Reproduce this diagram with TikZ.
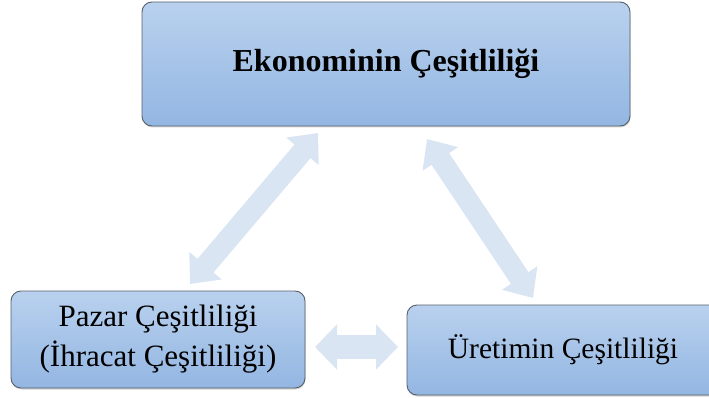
\documentclass[tikz,border=0pt]{standalone}
\usepackage{fontspec}
\setmainfont{Liberation Serif}
\usetikzlibrary{arrows.meta,shadows,calc}
\definecolor{boxtop}{HTML}{B9D1EE}
\definecolor{boxbot}{HTML}{93B6E2}
\definecolor{boxline}{HTML}{56606B}
\definecolor{arrowfill}{HTML}{DAE5F3}
\tikzset{
  box/.style={rounded corners=10pt, draw=boxline, line width=0.9pt,
    top color=boxtop, bottom color=boxbot, align=center,
    drop shadow={shadow xshift=0.5pt, shadow yshift=-1.5pt, opacity=0.35}},
  fatarrow/.style={draw=arrowfill, line width=21pt,
    {Triangle[length=24pt,width=41pt]}-{Triangle[length=24pt,width=41pt]}},
  fatarrowh/.style={draw=arrowfill, line width=24pt,
    {Triangle[length=22pt,width=44pt]}-{Triangle[length=22pt,width=44pt]}}
}
\begin{document}
\begin{tikzpicture}[x=1pt,y=-1pt]
\useasboundingbox (0,0) rectangle (709,398);
\node[box, minimum width=488pt, minimum height=124pt, font=\bfseries\fontsize{32}{36}\selectfont] (eko) at (386,64) {Ekonominin Çeşitliliği};
\node[box, minimum width=294pt, minimum height=97pt, font=\fontsize{31}{40}\selectfont] (pazar) at (158,339.5) {Pazar Çeşitliliği\\(İhracat Çeşitliliği)};
\node[box, minimum width=312pt, minimum height=90pt, font=\fontsize{29.5}{34}\selectfont] (uretim) at (563,350) {Üretimin Çeşitliliği};
\coordinate (l1) at (190,284);
\coordinate (l2) at (318,133);
\coordinate (r1) at (427,139);
\coordinate (r2) at (533,298);
\coordinate (h1) at (315,347);
\coordinate (h2) at (398,347);
\draw[fatarrow] (l1) -- (l2);
\draw[fatarrow] (r1) -- (r2);
\draw[fatarrowh] (h1) -- (h2);
\end{tikzpicture}
\end{document}
